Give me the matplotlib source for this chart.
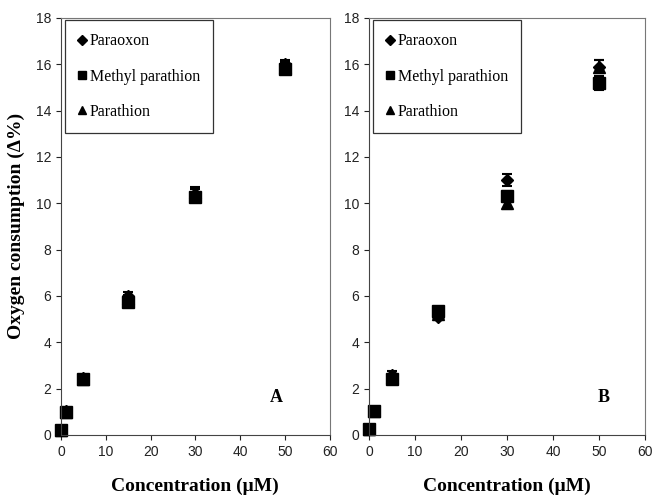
import numpy as np
import matplotlib
matplotlib.use("Agg")
import matplotlib.pyplot as plt
from matplotlib.lines import Line2D

conc = [0, 1, 5, 15, 30, 50]

# panel A
a_paraoxon = [0.2, 1.05, 2.45, 6.0, 10.4, 16.0]
a_methyl = [0.2, 1.0, 2.4, 5.75, 10.25, 15.8]
a_parathion = [0.2, 1.0, 2.4, 5.9, 10.5, 15.9]
a_err = [0.1, 0.1, 0.1, 0.15, 0.2, 0.2]

# panel B
b_paraoxon = [0.25, 1.05, 2.6, 5.1, 11.0, 15.9]
b_methyl = [0.25, 1.05, 2.4, 5.35, 10.3, 15.2]
b_parathion = [0.25, 1.05, 2.5, 5.2, 10.0, 15.9]
b_err = [0.1, 0.1, 0.15, 0.15, 0.25, 0.3]

series_names = ["Paraoxon", "Methyl parathion", "Parathion"]
markers = ["D", "s", "^"]
msizes = [6, 8, 8]

fig = plt.figure(figsize=(6.52, 4.96), dpi=100)
ax1 = fig.add_axes([0.0936, 0.123, 0.412, 0.841])
ax2 = fig.add_axes([0.566, 0.123, 0.423, 0.841])

panels = [
    (ax1, [a_paraoxon, a_methyl, a_parathion], a_err, "A", 48),
    (ax2, [b_paraoxon, b_methyl, b_parathion], b_err, "B", 51),
]

for ax, ys, err, letter, lx in panels:
    for y, name, m, ms in zip(ys, series_names, markers, msizes):
        eb = ax.errorbar(conc, y, yerr=err, fmt=m, color="black", ms=ms,
                         capsize=3.5, elinewidth=1.2, capthick=1.5)
        for art in eb.lines[0:1] + eb.lines[1] + eb.lines[2]:
            art.set_clip_on(False)
    ax.set_xlim(0, 60)
    ax.set_ylim(0, 18)
    ax.set_xticks(range(0, 61, 10))
    ax.set_yticks(range(0, 19, 2))
    ax.tick_params(direction="out", length=3.5, labelsize=10, colors="#222222",
                   width=0.8)
    for lab in ax.get_xticklabels() + ax.get_yticklabels():
        lab.set_family("Liberation Sans")
    for side in ["top", "right"]:
        ax.spines[side].set_color("#777777")
    for side in ["left", "bottom"]:
        ax.spines[side].set_color("#444444")
    ax.text(lx, 1.6, letter, fontsize=13, fontweight="bold",
            family="Liberation Serif", ha="center", va="center")
    handles = [Line2D([], [], marker=m, color="black", linestyle="none",
                      markersize=s)
               for m, s in zip(markers, [5, 6, 6])]
    leg = ax.legend(handles, series_names, loc="upper left",
                    bbox_to_anchor=(0.015, 0.995),
                    prop={"family": "Liberation Serif", "size": 11.5},
                    frameon=True, fancybox=False, edgecolor="black",
                    handletextpad=0.3, handlelength=0.4, labelspacing=1.2,
                    borderpad=0.84, borderaxespad=0.0)
    leg.get_frame().set_linewidth(0.9)
    ax.set_xlabel("Concentration (\u03bcM)", fontsize=14, fontweight="bold",
                  family="Liberation Serif", labelpad=14)

ax1.set_ylabel("Oxygen consumption (\u0394%)", fontsize=14, fontweight="bold",
               family="Liberation Serif", labelpad=8)

fig.savefig("out.png", dpi=100)
